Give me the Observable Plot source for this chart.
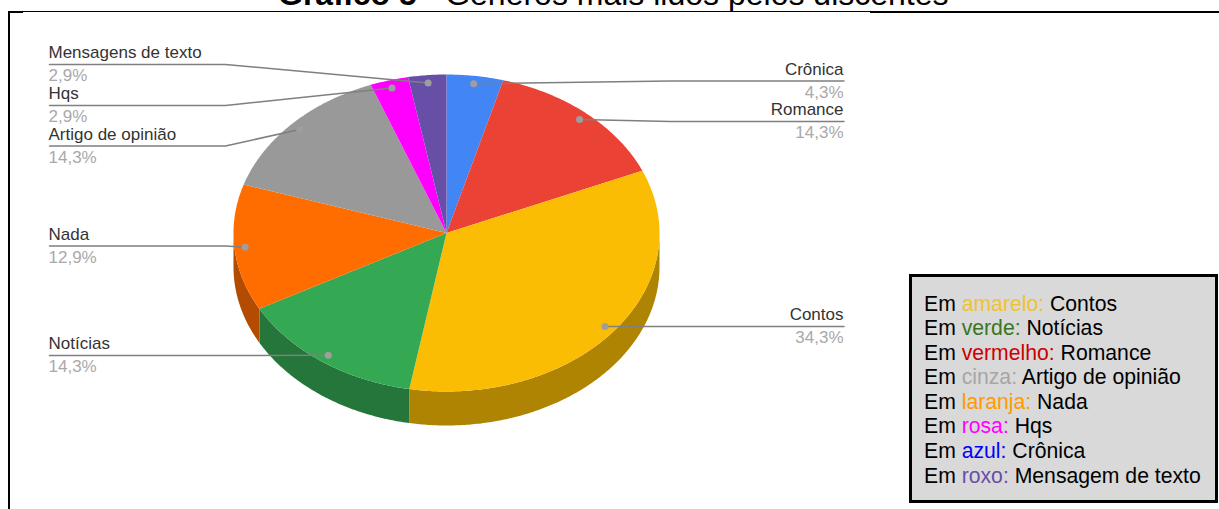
<!DOCTYPE html>
<html lang="pt-BR">
<head>
<meta charset="utf-8">
<title>Gráfico 5 - Gêneros mais lidos pelos discentes</title>
<script src="https://cdn.jsdelivr.net/npm/d3@7"></script>
<script src="https://cdn.jsdelivr.net/npm/@observablehq/plot@0.6"></script>
<style>
  html, body { margin: 0; padding: 0; background: #fff; }
  body { position: relative; width: 1219px; height: 509px; overflow: hidden; font-family: "Liberation Sans", Arial, sans-serif; }
  #chart { position: absolute; left: 0; top: 0; }
  #chart svg { display: block; }
  #title { position: absolute; left: 278px; top: -21px; font-size: 32px; line-height: 30px; white-space: nowrap; color: #000; }
  #frame-top { position: absolute; left: 8px; right: 0; top: 11px; height: 1px; background: #000; }
  #frame-top-right { position: absolute; left: 870px; right: 0; top: 11px; height: 2px; background: #000; }
  #frame-top-left { position: absolute; left: 8px; width: 15px; top: 11px; height: 2px; background: #000; }
  #frame-left { position: absolute; left: 8px; width: 2px; top: 11px; bottom: 0; background: #000; }
  #key { position: absolute; left: 909px; top: 274px; width: 291px; height: 208.5px; padding: 14.5px 0 0 12px; box-sizing: content-box;
         border: 3px solid #000; background: #d9d9d9; font-size: 21.2px; line-height: 24.6px; color: #000; white-space: nowrap; }
</style>
</head>
<body>
<div id="frame-top"></div><div id="frame-top-right"></div><div id="frame-top-left"></div><div id="frame-left"></div>
<div id="chart"></div>
<div id="title"><b>Gráfico 5</b> - Gêneros mais lidos pelos discentes</div>
<div id="key"></div>
<script>
// Genres in clockwise order from twelve o'clock
const genres = ["Crônica", "Romance", "Contos", "Notícias", "Nada", "Artigo de opinião", "Hqs", "Mensagens de texto"];
const shares = [4.3, 14.3, 34.3, 14.3, 12.9, 14.3, 2.9, 2.9];
const sliceColors = ["#4285f4", "#ea4335", "#fbbc04", "#34a853", "#ff6d01", "#999999", "#ff00ff", "#674ea7"];

// Colour key lines: colour word, its colour, genre
const keyWords = ["amarelo:", "verde:", "vermelho:", "cinza:", "laranja:", "rosa:", "azul:", "roxo:"];
const keyColors = ["#f1c232", "#38761d", "#cc0000", "#a6a6a6", "#ff9900", "#ff00ff", "#0000ff", "#674ea7"];
const keyGenres = ["Contos", "Notícias", "Romance", "Artigo de opinião", "Nada", "Hqs", "Crônica", "Mensagem de texto"];

// Pie geometry in page pixels
const cx = 446, cy = 232.5, rx = 213, ry = 158.5, depth = 34;
const callout = 0.95;           // leader lines start at this fraction of the radius
const elbowLeft = 225, elbowRight = 670, edgeLeft = 49, edgeRight = 843.5;
// Height of each callout's rule
const ruleY = new Map([
  ["Crônica", 80.5], ["Romance", 121], ["Contos", 326], ["Notícias", 355],
  ["Nada", 245.5], ["Artigo de opinião", 145.5], ["Hqs", 105], ["Mensagens de texto", 64]
]);

const total = d3.sum(shares);
const cumulative = d3.cumsum(shares);
const slices = genres.map((name, i) => ({
  name,
  value: shares[i],
  color: sliceColors[i],
  side: d3.rgb(sliceColors[i]).darker(1).formatHex(),
  a0: ((cumulative[i] - shares[i]) / total) * 2 * Math.PI,
  a1: (cumulative[i] / total) * 2 * Math.PI
}));

const px = (a, r = 1) => cx + r * rx * Math.sin(a);
const py = (a, r = 1) => cy - r * ry * Math.cos(a);

function arc(a0, a1) {
  const n = Math.max(2, Math.ceil((a1 - a0) / 0.01));
  return d3.range(n + 1).map((i) => a0 + ((a1 - a0) * i) / n);
}

// Top face of each slice: centre, then the rim
const faces = slices.flatMap((s) => [
  { name: s.name, color: s.color, x: cx, y: cy },
  ...arc(s.a0, s.a1).map((a) => ({ name: s.name, color: s.color, x: px(a), y: py(a) }))
]);

// Visible wall of each slice: the part of the rim on the near half of the ellipse
const walls = slices.flatMap((s) => {
  const a0 = Math.max(s.a0, Math.PI / 2), a1 = Math.min(s.a1, (3 * Math.PI) / 2);
  if (a1 <= a0) return [];
  const rim = arc(a0, a1);
  return [
    ...rim.map((a) => ({ name: s.name, color: s.side, x: px(a), y: py(a) })),
    ...rim.slice().reverse().map((a) => ({ name: s.name, color: s.side, x: px(a), y: py(a) + depth }))
  ];
});

// Callouts: each runs from a dot on its slice, through an elbow, along its rule
const callouts = slices.map((s) => {
  const mid = (s.a0 + s.a1) / 2;
  const right = mid < Math.PI;
  return {
    name: s.name,
    label: `${String(s.value).replace(".", ",")}%`,
    right,
    dotX: px(mid, callout),
    dotY: py(mid, callout),
    rule: ruleY.get(s.name),
    elbow: right ? elbowRight : elbowLeft,
    edge: right ? edgeRight : edgeLeft
  };
});
const leaders = callouts.flatMap((c) => [
  { name: c.name, x: c.dotX, y: c.dotY },
  { name: c.name, x: c.elbow, y: c.rule },
  { name: c.name, x: c.edge, y: c.rule }
]);

const labelFont = { fontFamily: "'Liberation Sans', Arial, sans-serif", fontSize: 17 };

const chart = Plot.plot({
  width: 1219,
  height: 509,
  margin: 0,
  x: { domain: [0, 1219], range: [0, 1219], axis: null },
  y: { domain: [0, 509], range: [0, 509], axis: null },
  style: { background: "transparent" },
  marks: [
    Plot.line(walls, { x: "x", y: "y", z: "name", fill: "color", stroke: "none", curve: "linear-closed" }),
    Plot.line(faces, { x: "x", y: "y", z: "name", fill: "color", stroke: "none", curve: "linear-closed" }),
    Plot.line(leaders, { x: "x", y: "y", z: "name", stroke: "#7f7f7f", strokeWidth: 1.5, curve: "linear" }),
    Plot.dot(callouts, { x: "dotX", y: "dotY", r: 3.5, fill: "#9e9e9e", stroke: "none" }),
    ...[true, false].flatMap((right) => {
      const anchor = right ? "end" : "start";
      const nudge = right ? -0.5 : -1;
      const rows = callouts.filter((c) => c.right === right);
      return [
        Plot.text(rows, { x: "edge", y: "rule", text: "name", dx: nudge, dy: -11.5, textAnchor: anchor, fill: "#333333", ...labelFont }),
        Plot.text(rows, { x: "edge", y: "rule", text: "label", dx: nudge, dy: 11.5, textAnchor: anchor, fill: "#a9a9a9", ...labelFont })
      ];
    })
  ]
});
document.getElementById("chart").append(chart);

// Colour key box
const key = document.getElementById("key");
keyWords.forEach((word, i) => {
  const row = document.createElement("div");
  const colored = document.createElement("span");
  colored.style.color = keyColors[i];
  colored.textContent = word;
  row.append("Em ", colored, ` ${keyGenres[i]}`);
  key.append(row);
});
</script>
</body>
</html>
